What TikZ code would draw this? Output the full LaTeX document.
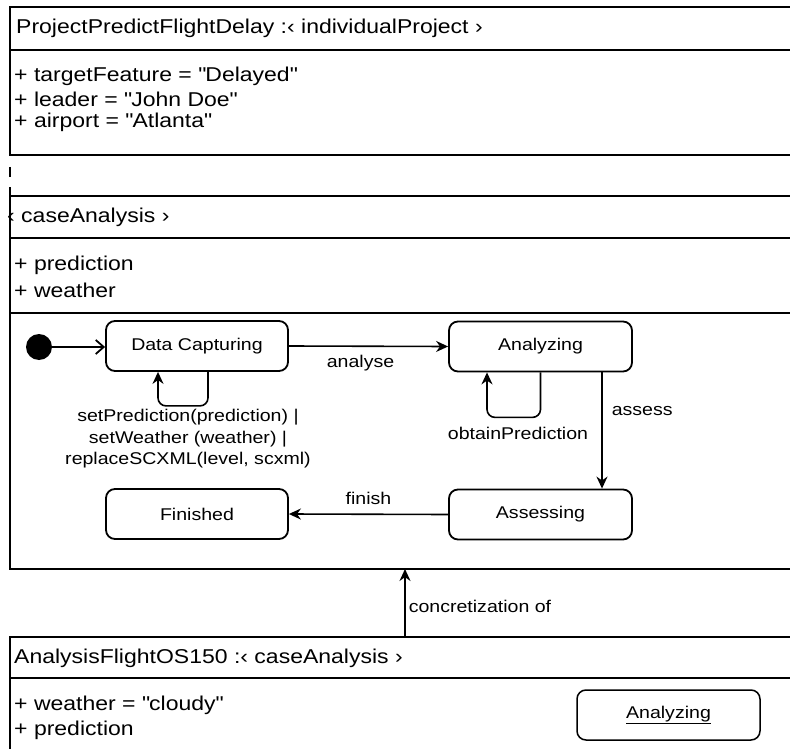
\documentclass[tikz,border=0pt]{standalone}
\usepackage{fontspec}
\setmainfont{Liberation Sans}[FakeStretch=1.15]
\usetikzlibrary{arrows.meta,calc}
% straight double quote, placed as a glyph so no TeX ligature mapping turns it curly
\newcommand\qt{\XeTeXglyph\XeTeXcharglyph"22\relax}
\begin{document}
\begin{tikzpicture}[x=1pt,y=-1pt,
  frame/.style={line width=2.3pt},
  divider/.style={line width=1.4pt},
  big/.style={font=\fontsize{20}{23}\selectfont, inner sep=0pt, anchor=west},
  state/.style={draw, line width=1.8pt, rounded corners=9pt, minimum width=182pt,
    minimum height=50pt, font=\fontsize{17}{20}\selectfont, inner sep=0pt},
  lbl/.style={font=\fontsize{17}{21.5}\selectfont, inner sep=0pt},
  tr/.style={line width=1.6pt, -{Stealth[length=12pt,width=11pt]}},
]
\useasboundingbox (0,0) rectangle (790,749);
\clip (0,0) rectangle (790,749);
\fill[white] (0,0) rectangle (790,749);

% project object
\draw[frame] (10,7) rectangle (805,155);
\draw[divider] (10,50) -- (805,50);
\node[big] (ptitle) at (16,28) {ProjectPredictFlightDelay :‹ individualProject ›};
\node[big] (pa1) at (14,76) {+ targetFeature = \qt Delayed\qt};
\node[big] (pa2) at (14,99) {+ leader = \qt John Doe\qt};
\node[big] (pa3) at (14,122) {+ airport = \qt Atlanta\qt};

% stray marks on the left border
\draw[divider] (10,167) -- (10,177);
\draw[frame] (10,187) -- (10,196);

% caseAnalysis class with its state machine
\draw[frame] (10,196) rectangle (805,569);
\draw[divider] (10,238) -- (805,238);
\draw[divider] (10,313) -- (805,313);
\node[big] (ctitle) at (7,217) {‹ caseAnalysis ›};
\node[big] (ca1) at (14,265) {+ prediction};
\node[big] (ca2) at (14,290) {+ weather};

\fill (39,347) circle (13pt);
\coordinate (init) at (52,347);
\node[state] (dc) at (197,346) {Data Capturing};
\node[state, minimum width=183pt] (an) at (540.5,346.5) {Analyzing};
\node[state, minimum width=183pt] (as) at (540.5,514.5) {Assessing};
\node[state] (fi) at (197,514) {Finished};

\draw[line width=1.6pt, -{Straight Barb[length=8pt,width=14pt,line width=1.8pt]}] (init) -- (dc.west |- init);
\draw[tr] (dc.east) -- node[lbl, below=8pt, pos=0.45] {analyse} (an.west);
\draw[tr, rounded corners=8pt] ([xshift=11pt]dc.south) -- ++(0,34) -| ([xshift=-39pt]dc.south);
\node[lbl, align=center, anchor=north] (dcl) at (188,409)
  {setPrediction(prediction) |\\setWeather (weather) |\\replaceSCXML(level, scxml)};
\draw[tr, rounded corners=8pt] (an.south) -- ++(0,45) -| ([xshift=-53.5pt]an.south);
\node[lbl] (anl) at (518,433) {obtainPrediction};
\draw[tr] ([xshift=61.5pt]an.south) -- node[lbl, right=9pt, pos=0.33] {assess} ([xshift=61.5pt]as.north);
\draw[tr] (as.west) -- node[lbl, above=9pt, pos=0.5] {finish} (fi.east);

% concrete analysis object
\draw[frame] (10,637) rectangle (805,760);
\draw[divider] (10,678) -- (805,678);
\node[big] (otitle) at (14,658) {AnalysisFlightOS150 :‹ caseAnalysis ›};
\node[big] (oa1) at (14,705) {+ weather = \qt cloudy\qt};
\node[big] (oa2) at (14,730) {+ prediction};
\node[state, line width=1.5pt, minimum width=183pt] (ai) at (668.5,715) {\underline{Analyzing}};

\coordinate (cfrom) at (405,637);
\coordinate (cto) at (405,569);
\draw[tr] (cfrom) -- node[lbl, anchor=west, xshift=3pt, pos=0.45] {concretization of} (cto);
\end{tikzpicture}
\end{document}
